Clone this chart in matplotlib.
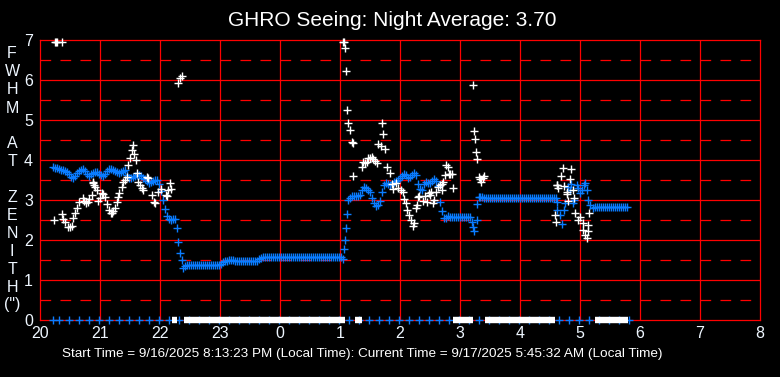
import numpy as np
import matplotlib
matplotlib.use('Agg')
import matplotlib.pyplot as plt

# times are minutes after 20:00 local time, values are FWHM in arcsec
# blue series, sampled every 2 min inside each block
blue_a_start = 13
blue_a = [3.83, 3.81, 3.80, 3.78, 3.76, 3.74, 3.72, 3.69, 3.64, 3.58,
          3.56, 3.60, 3.68, 3.72, 3.74, 3.77, 3.72, 3.64, 3.60, 3.65,
          3.68, 3.70, 3.70, 3.66, 3.62, 3.60, 3.64, 3.72, 3.78, 3.77,
          3.74, 3.72, 3.71, 3.68, 3.69, 3.72, 3.74, 3.62, 3.56, 3.55,
          3.58, 3.60, 3.62, 3.63, 3.60, 3.56, 3.52, 3.47, 3.43, 3.44,
          3.48, 3.51, 3.50, 3.40, 3.22, 3.00, 2.78, 2.60, 2.53, 2.50,
          2.52, 2.52]
blue_b_start = 145
blue_b = [1.35, 1.38, 1.38, 1.38, 1.38, 1.38, 1.38, 1.38, 1.38, 1.38,
          1.38, 1.38, 1.38, 1.38, 1.38, 1.38, 1.38, 1.38, 1.40, 1.45,
          1.48, 1.48, 1.49, 1.49, 1.49, 1.48, 1.48, 1.48, 1.48, 1.48,
          1.48, 1.48, 1.48, 1.48, 1.48, 1.48, 1.48, 1.53, 1.56, 1.57,
          1.57, 1.57, 1.57, 1.57, 1.57, 1.57, 1.57, 1.57, 1.57, 1.57,
          1.57, 1.57, 1.57, 1.57, 1.57, 1.57, 1.57, 1.57, 1.57, 1.57,
          1.57, 1.57, 1.57, 1.57, 1.57, 1.57, 1.57, 1.57, 1.57, 1.57,
          1.57, 1.57, 1.57, 1.57, 1.57, 1.57, 1.57, 1.57, 1.57, 1.52]
blue_c_start = 310
blue_c = [3.05, 3.10, 3.11, 3.11, 3.11, 3.12, 3.25, 3.33, 3.30, 3.26,
          3.20, 3.05, 2.92, 2.85, 2.88, 2.98, 3.20, 3.38, 3.43, 3.40,
          3.37, 3.40, 3.45, 3.47, 3.50, 3.55, 3.60, 3.66, 3.63, 3.56,
          3.58, 3.63, 3.67, 3.62, 3.40, 3.28, 3.25, 3.40, 3.45, 3.43,
          3.42, 3.48, 3.52, 3.48, 3.35, 2.95, 2.72, 2.54, 2.56, 2.60]
blue_d_start = 410
blue_d = [2.58, 2.58, 2.58, 2.58, 2.58, 2.58, 2.58, 2.58, 2.58, 2.58, 2.58]
blue_e_start = 440
blue_e = [3.08, 3.07, 3.05, 3.04, 3.04, 3.04, 3.04, 3.04, 3.04, 3.04,
          3.04, 3.04, 3.04, 3.04, 3.04, 3.04, 3.04, 3.04, 3.04, 3.04,
          3.04, 3.04, 3.04, 3.04, 3.04, 3.04, 3.04, 3.04, 3.04, 3.04,
          3.04, 3.04, 3.04, 3.04, 3.04, 3.04, 3.04, 3.04, 3.04]
blue_f_start = 555
blue_f = [2.83, 2.83, 2.83, 2.83, 2.83, 2.83, 2.83, 2.83, 2.83, 2.83,
          2.83, 2.83, 2.83, 2.83, 2.83, 2.83, 2.83]

# blue single samples between the blocks
blue_single_min = [137.3, 138.3, 140, 141.7, 142.7,
                   304.3, 305.3, 306.3, 307.3, 308.3,
                   432, 433.3, 434, 436.7, 437.3, 438.7,
                   516.7, 517.3, 520, 521.7, 524, 525, 528.3, 530, 531, 533.3,
                   534, 536.7, 538, 540, 542, 544.3, 545, 546.7, 548.3, 550, 553.3]
blue_single_val = [2.29, 1.94, 1.67, 1.50, 1.30,
                   1.77, 2.00, 2.29, 2.64, 3.00,
                   2.45, 2.33, 2.22, 2.50, 2.89, 3.08,
                   2.96, 2.75, 2.62, 2.40, 2.75, 2.92, 3.32, 3.25, 3.40, 2.92,
                   3.00, 3.38, 3.30, 3.17, 3.25, 3.38, 3.42, 3.25, 3.00, 2.88, 2.79]

# blue zero readings (no measurement)
blue_zero_min = [13, 19, 29, 39, 49, 59, 69, 79, 89, 99, 109, 119, 129, 139,
                 149, 159, 169, 179, 189, 199, 209, 219, 229, 239, 249, 259,
                 269, 279, 289, 299, 309, 319, 329, 339, 349, 359, 369, 379,
                 389, 399, 409, 419, 429, 439, 449, 459, 469, 479, 489, 499,
                 509, 519, 529, 539, 549, 559, 569, 579, 589]

# white series
white_min = [15, 16, 17, 21.5,
             14, 21.7, 23.3, 25, 27.7, 30, 31.5, 32.7, 35, 36.7, 39.3, 42.7,
             44, 46, 47.5, 49.3, 51.7, 52.5, 53.3, 54.2, 55, 56.7, 58.3, 60,
             61.7, 63.3, 65, 67.3, 69.3, 70.5, 71.7, 73.3, 75, 76.7, 78, 79.3,
             81.7, 83.3, 85, 86.7, 88.3, 90, 91.7, 92.7, 94.3, 95.7, 96.7,
             98.3, 100, 101.5, 103.3, 106.7, 108.3, 111.7, 114, 115, 118.3,
             120.7, 126, 127, 128.3, 130, 131,
             137.7, 140, 141.7,
             303, 303.7, 305.3, 306.3, 307.3, 308.3, 310.3, 311.7, 312.7, 313.3,
             321.7, 323.3, 325, 326.5, 328.3, 330, 331.7, 333.3, 335, 337.3,
             338.3, 340.7, 341.7, 342.7, 345, 347.3, 350, 352, 353.3, 356, 358,
             360.7, 363.3, 364, 366, 367.3, 369.3, 370.7, 372.7, 374, 376,
             377.3, 378.3, 379.3, 383.3, 385, 386.7, 389, 390, 391, 392.7, 394,
             396, 397.7, 400, 401.7, 402.3, 403.3, 405, 406, 407.7, 409.3, 410,
             411.7, 412.7,
             433.3, 434.3, 435.3, 436.3, 437.3, 439, 440, 441, 442.7, 444.3,
             515, 515.7, 516.7, 517.3, 518.3, 521, 522.7, 524, 526.7, 527.3,
             528.3, 530, 531, 533.3, 534.3, 535, 537.7, 540, 542.7, 543.3, 545,
             546.7, 548, 548.3, 549.3]
white_val = [6.95, 6.95, 6.95, 6.95,
             2.50, 2.64, 2.52, 2.46, 2.33, 2.32, 2.36, 2.54, 2.67, 2.79, 2.96, 3.04,
             2.98, 2.92, 2.95, 3.02, 3.12, 3.46, 3.42, 3.38, 3.33, 3.25, 2.97, 3.05,
             3.17, 3.15, 3.08, 2.90, 2.75, 2.68, 2.67, 2.72, 2.79, 2.96, 3.08, 3.17,
             3.33, 3.46, 3.50, 3.58, 3.88, 4.04, 4.25, 4.38, 4.15, 4.00, 3.68,
             3.46, 3.38, 3.30, 3.25, 3.58, 3.55, 3.12, 2.96, 2.93, 3.21,
             3.27, 3.12, 3.10, 3.25, 3.42, 3.27,
             5.93, 6.04, 6.10,
             6.95, 6.95, 6.79, 6.23, 5.25, 4.92, 4.75, 4.46, 4.42, 3.60,
             3.83, 3.96, 3.92, 3.95, 4.04, 4.06, 4.08, 4.02, 3.98, 3.92,
             4.39, 4.35, 4.92, 4.64, 4.27, 3.83, 3.67, 3.40, 3.27, 3.42, 3.30,
             3.25, 3.21, 3.02, 2.92, 2.75, 2.62, 2.50, 2.35, 2.43, 2.79,
             2.88, 3.08, 3.10, 2.98, 3.10, 2.96, 3.17, 3.12, 3.21, 2.92, 3.00,
             3.19, 3.33, 3.38, 3.40, 3.25, 3.46, 3.62, 3.88, 3.83, 3.64, 3.65,
             3.64, 3.29,
             5.88, 4.73, 4.52, 4.19, 4.02, 3.57, 3.52, 3.46, 3.54, 3.61,
             2.62, 2.44, 3.38, 3.38, 3.31, 3.60, 3.79, 3.35, 3.19, 3.15,
             2.97, 3.52, 3.77, 3.25, 3.06, 2.68, 2.50, 2.58, 2.43, 2.25, 2.12,
             2.04, 2.23, 2.38, 2.67]

# spans where the white series only reported zero
white_zero_spans = [(132, 137), (144, 305), (315, 322), (413, 433), (445, 515), (555, 588)]

hour_ticks = [20, 21, 22, 23, 24, 25, 26, 27, 28, 29, 30, 31, 32]
hour_labels = ['20', '21', '22', '23', '0', '1', '2', '3', '4', '5', '6', '7', '8']
y_letters = ['F', 'W', 'H', 'M', 'A', 'T', 'Z', 'E', 'N', 'I', 'T', 'H', '(")']
y_letter_rows = [53, 72, 90, 108, 143, 161, 197, 215, 233, 251, 269, 287, 305]

title = 'GHRO Seeing: Night Average: 3.70'
footer = ('Start Time = 9/16/2025 8:13:23 PM (Local Time): '
          'Current Time = 9/17/2025 5:45:32 AM (Local Time)')


def to_hours(minutes):
    return 20 + np.asarray(minutes, dtype=float) / 60.0


def block(start, values):
    mins = start + 2 * np.arange(len(values))
    return to_hours(mins), np.asarray(values)


plt.rcParams['font.family'] = ['Liberation Sans', 'DejaVu Sans']
plt.rcParams['lines.scale_dashes'] = False

W, H = 780, 377
fig = plt.figure(figsize=(W / 100, H / 100), dpi=100, facecolor='black')
ax = fig.add_axes([40 / W, (H - 320) / H, 720 / W, 280 / H])
ax.set_facecolor('black')
ax.set_xlim(20, 32)
ax.set_ylim(0, 7)

RED = '#ff0000'
BLUE = '#0a7cff'
grid_lw = 0.9
for h in hour_ticks[1:-1]:
    ax.axvline(h, color=RED, lw=grid_lw, zorder=1)
for y in range(1, 7):
    ax.axhline(y, color=RED, lw=grid_lw, zorder=1)
for y in np.arange(0.5, 7, 1.0):
    ax.axhline(y, color=RED, lw=grid_lw, linestyle=(0, (7.7, 6.7)), zorder=1)
for s in ax.spines.values():
    s.set_color(RED)
    s.set_linewidth(grid_lw)

mk = dict(linestyle='none', marker='+', markersize=5.4, markeredgewidth=1.0)

# blue data blocks
for start, vals in [(blue_a_start, blue_a), (blue_b_start, blue_b), (blue_c_start, blue_c),
                    (blue_d_start, blue_d), (blue_e_start, blue_e), (blue_f_start, blue_f)]:
    t, v = block(start, vals)
    ax.plot(t, v, color=BLUE, zorder=3, **mk)
ax.plot(to_hours(blue_single_min), blue_single_val, color=BLUE, zorder=3, **mk)

# white data
ax.plot(to_hours(white_min), white_val, color='white', zorder=4, clip_on=False, **mk)

# zero readings along the bottom
ax.plot(to_hours(blue_zero_min), np.zeros(len(blue_zero_min)), color=BLUE,
        zorder=4, clip_on=False, **mk)
for a, b in white_zero_spans:
    ax.hlines(0, to_hours(a), to_hours(b), color='white', lw=4.6, zorder=5, clip_on=False)

ax.set_xticks(hour_ticks)
ax.set_xticklabels(hour_labels)
ax.set_yticks(range(8))
ax.tick_params(length=0, colors='#eef6ff', labelsize=11.5)
ax.tick_params(axis='x', pad=4)
ax.tick_params(axis='y', pad=5)

fig.text(392.5 / W, 1 - 20 / H, title, color='white', fontsize=15,
         ha='center', va='center')
for letter, row in zip(y_letters, y_letter_rows):
    fig.text(12 / W, 1 - row / H, letter, color='#eef6ff', fontsize=11.5,
             ha='center', va='center')
fig.text(362.5 / W, 1 - 354 / H, footer, color='white', fontsize=9.7,
         ha='center', va='center')

fig.savefig('out.png', dpi=100, facecolor='black')
